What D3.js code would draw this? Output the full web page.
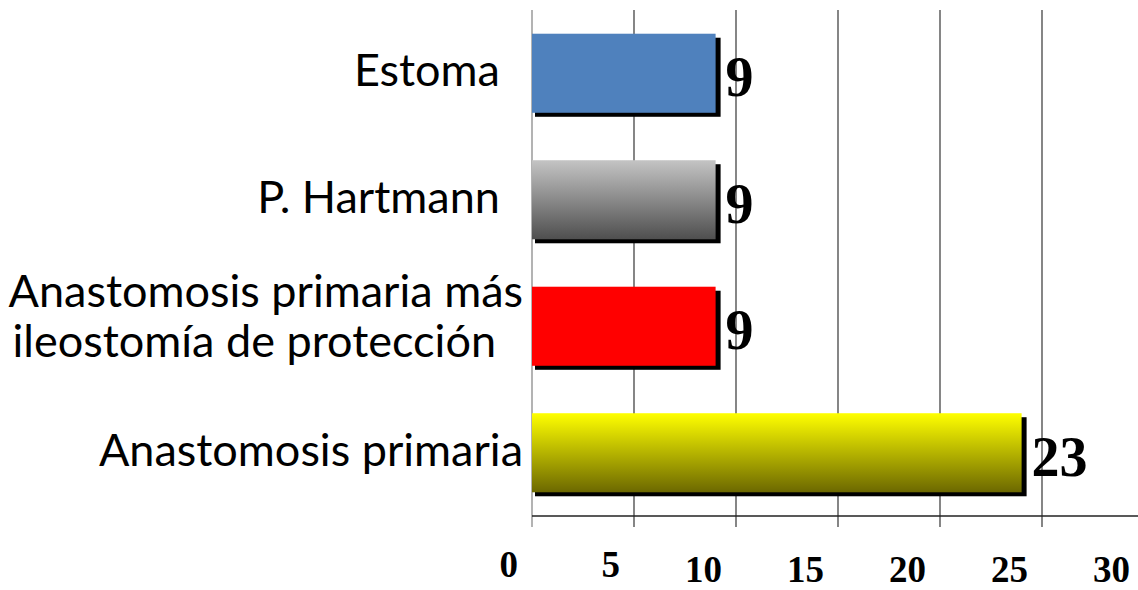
<!DOCTYPE html>
<html>
<head>
<meta charset="utf-8">
<script src="https://cdn.jsdelivr.net/npm/d3@7"></script>
<style>
  body { margin: 0; background: #fff; }
  svg { display: block; }
  .cat { font-family: Lato, "Noto Sans", sans-serif; font-size: 45px; fill: #000; white-space: pre; }
  .val { font-family: "Liberation Serif", "Times New Roman", serif; font-weight: bold; font-size: 56px; fill: #000; }
  .tick-lab { font-family: "Liberation Serif", "Times New Roman", serif; font-weight: bold; font-size: 37px; fill: #000; }
</style>
</head>
<body>
<div id="chart"></div>
<script>
// categories top to bottom, as in the picture
var categories = ["Estoma  ", "P. Hartmann  ", "Anastomosis primaria más\nileostomía de protección  ", "Anastomosis primaria"];
// bar lengths as drawn (the last bar reaches 24 although its label says 23)
var barValues = [9, 9, 9, 24];
var valueLabels = ["9", "9", "9", "23"];
var tickValues = [0, 5, 10, 15, 20, 25, 30];
var barFills = ["#4F81BD", "url(#gGrey)", "#FF0000", "url(#gYellow)"];

var width = 1138, height = 590;
var svg = d3.select("#chart").append("svg")
    .attr("width", width)
    .attr("height", height);

var defs = svg.append("defs");
function addGrad(id, top, bottom){
    let g = defs.append("linearGradient").attr("id", id)
        .attr("x1", 0).attr("y1", 0).attr("x2", 0).attr("y2", 1);
    g.append("stop").attr("offset", "0%").attr("stop-color", top);
    g.append("stop").attr("offset", "100%").attr("stop-color", bottom);
}
addGrad("gGrey", "#c4c4c4", "#4f4f4f");
addGrad("gYellow", "#ffff00", "#6c6800");

var x = d3.scaleLinear().domain([0, 30]).range([532, 1144]);
var y = d3.scaleBand().domain(d3.range(categories.length))
    .range([10, 516])
    .paddingInner(0.375)
    .paddingOuter(0.1875);

var axisY = 516;

//gridlines
svg.append("g").selectAll("line")
    .data(tickValues)
    .enter().append("line")
    .attr("x1", d => x(d)).attr("x2", d => x(d))
    .attr("y1", 10).attr("y2", axisY + 11)
    .attr("stroke", d => d == 0 ? "#8a8a8a" : "#444")
    .attr("stroke-width", 1.3);

//axis line
svg.append("line")
    .attr("x1", x(0)).attr("x2", width)
    .attr("y1", axisY).attr("y2", axisY)
    .attr("stroke", "#222").attr("stroke-width", 1.3);

//tick labels (sit left of their tick, two-digit ones a bit lower)
svg.append("g").selectAll("text")
    .data(tickValues)
    .enter().append("text")
    .attr("class", "tick-lab")
    .attr("text-anchor", "end")
    .attr("x", d => x(d) - 14)
    .attr("y", d => d < 10 ? 577 : 582)
    .text(d => d);

//bars with shadow
var bars = svg.append("g").selectAll("g.bar")
    .data(barValues)
    .enter().append("g").attr("class", "bar");

bars.append("rect")
    .attr("x", x(0) + 3)
    .attr("y", (d, i) => y(i) + 4)
    .attr("width", d => x(d) - x(0) + 2)
    .attr("height", y.bandwidth())
    .attr("fill", "#000");

bars.append("rect")
    .attr("x", x(0))
    .attr("y", (d, i) => y(i))
    .attr("width", d => x(d) - x(0))
    .attr("height", y.bandwidth())
    .attr("fill", (d, i) => barFills[i]);

//value labels
svg.append("g").selectAll("text")
    .data(barValues)
    .enter().append("text")
    .attr("class", "val")
    .attr("x", d => x(d) + 10)
    .attr("y", (d, i) => y(i) + y.bandwidth() / 2 + 23)
    .text((d, i) => valueLabels[i]);

//category labels, block right aligned, lines centred inside block
var labelRight = 523;
categories.forEach((c, i) => {
    let lines = c.split("\n");
    let n = lines.length;
    let cy = y(i) + y.bandwidth() / 2;
    let t = svg.append("text").attr("class", "cat").attr("text-anchor", "middle");
    let spans = lines.map((ln, j) => t.append("tspan")
        .attr("y", cy + 13 + (j - (n - 1) / 2) * 50 - (n - 1) * 7)
        .text(ln));
    let w = d3.max(spans, s => s.node().getComputedTextLength());
    spans.forEach(s => s.attr("x", labelRight - w / 2));
});
</script>
</body>
</html>
